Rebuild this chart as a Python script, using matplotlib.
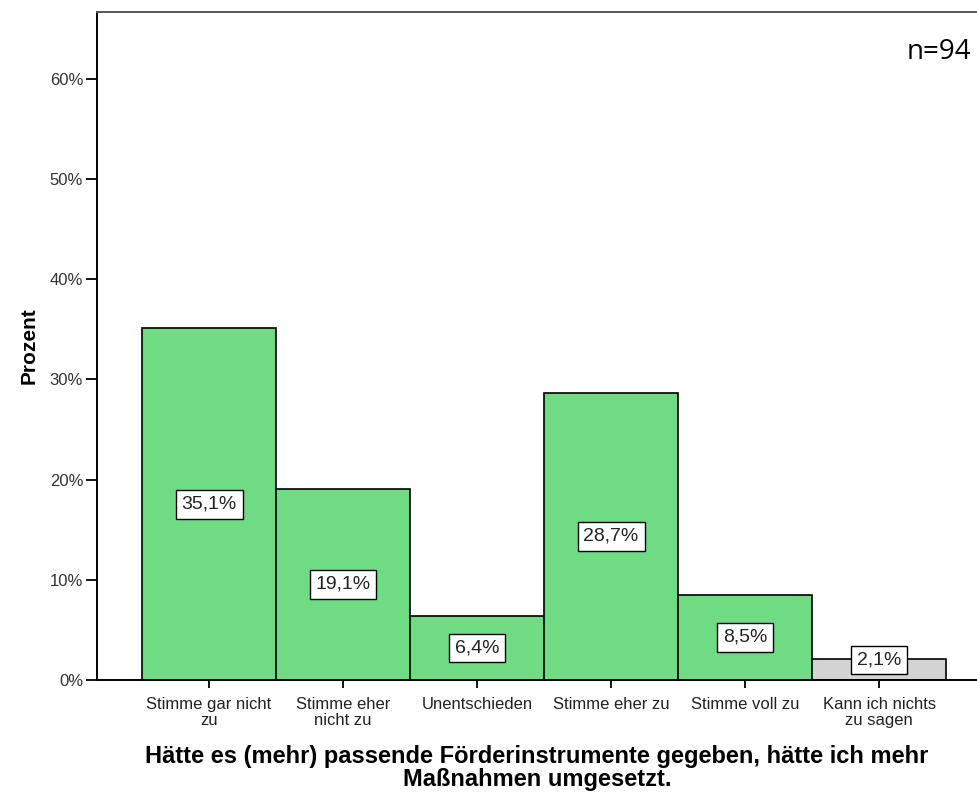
import matplotlib.pyplot as plt
import numpy as np

categories = ['Stimme gar nicht\nzu', 'Stimme eher\nnicht zu', 'Unentschieden',
              'Stimme eher zu', 'Stimme voll zu', 'Kann ich nichts\nzu sagen']
values = [35.1, 19.1, 6.4, 28.7, 8.5, 2.1]
labels = ['35,1%', '19,1%', '6,4%', '28,7%', '8,5%', '2,1%']
colors = ['#6fdc84'] * 5 + ['#d3d3d3']
yticks = [0, 10, 20, 30, 40, 50, 60]

plt.rcParams['font.family'] = ['Liberation Sans', 'DejaVu Sans']

fig = plt.figure(figsize=(9.77, 7.94), dpi=100)
ax = fig.add_axes([0.0993, 0.1436, 0.9007, 0.8414])

x = np.arange(len(values))
ax.bar(x, values, width=1.0, color=colors, edgecolor='black', linewidth=1.2)

for xi, v, lab in zip(x, values, labels):
    ax.text(xi, max(v / 2, 2.0), lab, ha='center', va='center', fontsize=14, color='#222222',
            bbox=dict(boxstyle='square,pad=0.3', facecolor='white', edgecolor='black', linewidth=1))

ax.set_xlim(-0.836, 5.73)
ax.set_ylim(0, 66.7)
ax.set_yticks(yticks)
ax.set_yticklabels([f'{t}%' for t in yticks], fontsize=12, color='#333333')
ax.set_xticks(x)
ax.set_xticklabels(categories, fontsize=12, linespacing=1.1, color='#222222')
ax.tick_params(axis='y', length=8, width=1.3, pad=2)
ax.tick_params(axis='x', length=6, width=1.3, pad=6)

ax.spines['right'].set_visible(False)
for s in ['left', 'bottom']:
    ax.spines[s].set_linewidth(1.4)
ax.spines['top'].set_linewidth(1.4)
ax.spines['top'].set_color('#555555')

ax.set_ylabel('Prozent', fontsize=15, fontweight='bold', labelpad=8)
ax.set_xlabel('Hätte es (mehr) passende Förderinstrumente gegeben, hätte ich mehr\nMaßnahmen umgesetzt.',
              fontsize=17, fontweight='bold', labelpad=12, linespacing=1.0)

ax.text(0.994, 0.94, 'n=94', transform=ax.transAxes, ha='right', va='center',
        fontsize=20, family=['Open Sans', 'DejaVu Sans'])

fig.savefig('out.png', dpi=100)
